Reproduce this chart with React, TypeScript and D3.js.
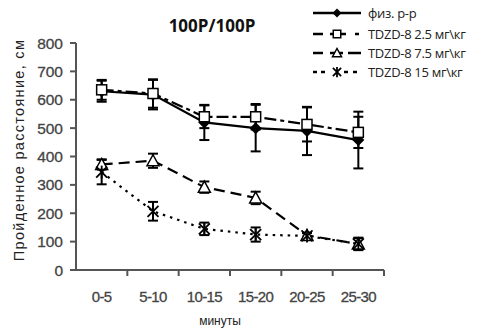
import React from "react";
import * as d3 from "d3";

const categories = ["0-5", "5-10", "10-15", "15-20", "20-25", "25-30"];
const yTicks = [0, 100, 200, 300, 400, 500, 600, 700, 800];
const seriesNames = ["физ. р-р", "TDZD-8 2.5 мг\\кг", "TDZD-8 7.5 мг\\кг", "TDZD-8 15 мг\\кг"];
const physMean = [630, 618, 520, 500, 490, 458];
const physErr = [37, 52, 62, 82, 85, 100];
const d25Mean = [635, 622, 540, 540, 513, 485];
const d25Err = [35, 50, 40, 45, 60, 55];
const d75Mean = [372, 385, 292, 254, 122, 92];
const d75Err = [18, 25, 20, 22, 10, 20];
const d15Mean = [345, 207, 145, 125, 120, 92];
const d15Err = [43, 33, 22, 25, 10, 22];

const W = 481, H = 328;
const x = d3.scaleBand<string>().domain(categories).range([76, 384]);
const y = d3.scaleLinear().domain([0, 800]).range([270, 43]);
const cx = (c: string) => (x(c) as number) + x.bandwidth() / 2;

type Marker = "diamond" | "square" | "triangle" | "star";
const series = [
  { name: seriesNames[0], mean: physMean, err: physErr, dash: "none", marker: "diamond" as Marker },
  { name: seriesNames[1], mean: d25Mean, err: d25Err, dash: "12,4,4,4", marker: "square" as Marker },
  { name: seriesNames[2], mean: d75Mean, err: d75Err, dash: "11,6", marker: "triangle" as Marker },
  { name: seriesNames[3], mean: d15Mean, err: d15Err, dash: "2.5,5", marker: "star" as Marker },
];

function MarkerShape({ type, px, py, k = 1 }: { type: Marker; px: number; py: number; k?: number }) {
  if (type === "diamond") {
    const s = 6 * k;
    return <path d={`M${px},${py - s}L${px + s},${py}L${px},${py + s}L${px - s},${py}Z`} fill="#000" />;
  }
  if (type === "square") {
    const s = 5 * k;
    return <rect x={px - s} y={py - s} width={2 * s} height={2 * s} fill="#fff" stroke="#000" strokeWidth={1.5} />;
  }
  if (type === "triangle") {
    return <path d={`M${px},${py - 6 * k}L${px + 6 * k},${py + 5 * k}L${px - 6 * k},${py + 5 * k}Z`} fill="#fff" stroke="#000" strokeWidth={1.5} />;
  }
  const s = 5.5 * k;
  return (
    <g stroke="#000" strokeWidth={1.8}>
      <line x1={px - s} y1={py - s} x2={px + s} y2={py + s} />
      <line x1={px - s} y1={py + s} x2={px + s} y2={py - s} />
      <line x1={px} y1={py - s - 1} x2={px} y2={py + s + 1} />
    </g>
  );
}

const legendSegs: number[][][] = [
  [[313, 361]],
  [[313, 323], [330, 346], [355, 359]],
  [[313, 323], [330, 343], [348, 361]],
  [[313, 317], [321, 325], [344, 348], [353, 357]],
];

export default function App() {
  const line = d3.line<number>().x((_, i) => cx(categories[i])).y((d) => y(d));
  const legendY = [13, 34, 53, 72];
  return (
    <svg width={W} height={H} style={{ position: "absolute", left: 0, top: 0, background: "#fff" }}>
      <rect width={W} height={H} fill="#fff" />
      <text x={212} y={32} textAnchor="middle" fontFamily="'Open Sans'" fontWeight="bold" fontSize={17} fill="#111">
        100P/100P
      </text>
      <g stroke="#555" strokeWidth={2}>
        <line x1={76} y1={43} x2={76} y2={271} />
        <line x1={75} y1={270} x2={384} y2={270} />
        {yTicks.map((t) => (
          <line key={t} x1={70} x2={76} y1={y(t)} y2={y(t)} />
        ))}
        {categories.map((c) => (
          <line key={c} x1={(x(c) as number) + x.bandwidth()} x2={(x(c) as number) + x.bandwidth()} y1={270} y2={276} />
        ))}
      </g>
      {yTicks.map((t) => (
        <text key={t} x={63} y={y(t) + 5.5} textAnchor="end" fontFamily="'Liberation Sans', Arial" fontSize={15.5} fill="#444" stroke="#444" strokeWidth={0.3}>
          {t}
        </text>
      ))}
      {categories.map((c) => (
        <text key={c} x={cx(c)} y={302} textAnchor="middle" fontFamily="'Liberation Sans', Arial" fontSize={15} fill="#444" stroke="#444" strokeWidth={0.3} letterSpacing={-0.6}>
          {c}
        </text>
      ))}
      <text x={220} y={325} textAnchor="middle" fontFamily="'Liberation Sans', Arial" fontSize={12} fill="#222">
        минуты
      </text>
      <text transform="translate(24,150) rotate(-90)" textAnchor="middle" fontFamily="'Liberation Sans', Arial" fontSize={14.5} fill="#222" letterSpacing={1.3}>
        Пройденное расстояние, см
      </text>
      {series.map((s, si) => (
        <g key={si}>
          <path d={line(s.mean) as string} fill="none" stroke="#000" strokeWidth={2.2} strokeDasharray={s.dash} />
          {s.mean.map((m, i) => {
            const px = cx(categories[i]);
            return (
              <g key={i} stroke="#000" strokeWidth={2}>
                <line x1={px} x2={px} y1={y(m + s.err[i])} y2={y(m - s.err[i])} />
                <line x1={px - 5} x2={px + 5} y1={y(m + s.err[i])} y2={y(m + s.err[i])} />
                <line x1={px - 5} x2={px + 5} y1={y(m - s.err[i])} y2={y(m - s.err[i])} />
              </g>
            );
          })}
        </g>
      ))}
      {series.map((s, si) =>
        s.mean.map((m, i) => <MarkerShape key={`${si}-${i}`} type={s.marker} px={cx(categories[i])} py={y(m)} />)
      )}
      {series.map((s, si) => (
        <g key={si}>
          {legendSegs[si].map((sg, j) => (
            <line key={j} x1={sg[0]} x2={sg[1]} y1={legendY[si]} y2={legendY[si]} stroke="#000" strokeWidth={2.5} />
          ))}
          <MarkerShape type={s.marker} px={337} py={legendY[si]} k={0.75} />
          <text x={368} y={legendY[si] + 4.5} fontFamily="'Open Sans'" fontSize={13} fill="#222" letterSpacing={-0.3}>
            {s.name}
          </text>
        </g>
      ))}
    </svg>
  );
}
